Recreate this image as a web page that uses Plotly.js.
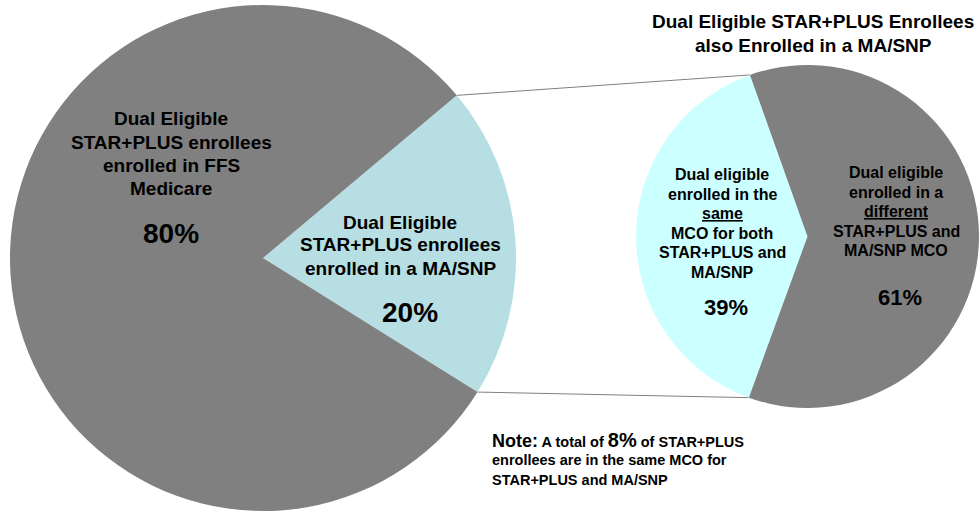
<!DOCTYPE html>
<html>
<head>
<meta charset="utf-8">
<script src="https://cdn.plot.ly/plotly-3.0.1.min.js"></script>
<style>html,body{margin:0;padding:0;background:#fff;}#chart{width:979px;height:516px;}</style>
</head>
<body>
<div id="chart"></div>
<script>
// ---- data ----
var mainLabels = ["Dual Eligible STAR+PLUS enrollees enrolled in a MA/SNP", "Dual Eligible STAR+PLUS enrollees enrolled in FFS Medicare"];
var mainValues = [20, 80];
var subLabels = ["Dual eligible enrolled in the same MCO for both STAR+PLUS and MA/SNP", "Dual eligible enrolled in a different STAR+PLUS and MA/SNP MCO"];
var subValues = [39, 61];
var subTitleLines = ["Dual Eligible STAR+PLUS Enrollees", "also Enrolled in a MA/SNP"];
var labelFFS = ["Dual Eligible", "STAR+PLUS enrollees", "enrolled in FFS", "Medicare"];
var labelMA = ["Dual Eligible", "STAR+PLUS enrollees", "enrolled in a MA/SNP"];
var labelSame = ["Dual eligible", "enrolled in the", "<u>same</u>", "MCO for both", "STAR+PLUS and", "MA/SNP"];
var labelDiff = ["Dual eligible", "enrolled in a", "<u>different</u>", "STAR+PLUS and", "MA/SNP MCO"];
var noteLines = [
  '<span style="font-size:18px">Note:</span> A total of <span style="font-size:20px">8%</span> of STAR+PLUS',
  'enrollees are in the same MCO for',
  'STAR+PLUS and MA/SNP'
];

// ---- layout geometry ----
var W = 979, H = 516;
var FONT = "Arial, 'Liberation Sans', sans-serif";
var gray = "#808080", lightBlue = "#B7DEE2", cyan = "#CCFFFF";

var mainDom = {x: [10 / W, 516 / W], y: [5 / H, 511 / H]};
var subDom = {x: [636 / W, 1], y: [107 / H, 452 / H]};
var mainRot = 50, subRot = 200;

function pieGeom(dom) {
  var w = (dom.x[1] - dom.x[0]) * W, h = (dom.y[1] - dom.y[0]) * H;
  return {
    cx: (dom.x[0] + dom.x[1]) / 2 * W,
    cy: H - (dom.y[0] + dom.y[1]) / 2 * H,
    r: Math.min(w, h) / 2
  };
}
function edgePoint(g, deg) {
  var a = deg * Math.PI / 180;
  return {x: (g.cx + g.r * Math.sin(a)) / W, y: 1 - (g.cy - g.r * Math.cos(a)) / H};
}
var gM = pieGeom(mainDom), gS = pieGeom(subDom);
var sumM = mainValues.reduce(function (a, b) { return a + b; }, 0);
var sumS = subValues.reduce(function (a, b) { return a + b; }, 0);
var maStart = mainRot, maEnd = mainRot + 360 * mainValues[0] / sumM;
var sameStart = subRot, sameEnd = subRot + 360 * subValues[0] / sumS;
var p1 = edgePoint(gM, maStart), p2 = edgePoint(gS, sameEnd);
var p3 = edgePoint(gM, maEnd), p4 = edgePoint(gS, sameStart);

var traces = [
  {type: "pie", labels: mainLabels, values: mainValues, sort: false, direction: "clockwise",
   rotation: mainRot, domain: mainDom, marker: {colors: [lightBlue, gray], line: {width: 0}},
   textinfo: "none", hoverinfo: "none", showlegend: false},
  {type: "pie", labels: subLabels, values: subValues, sort: false, direction: "clockwise",
   rotation: subRot, domain: subDom, marker: {colors: [cyan, gray], line: {width: 0}},
   textinfo: "none", hoverinfo: "none", showlegend: false}
];

var annotations = [];
function addLines(lines, xPx, yPx, spacing, size, anchor) {
  lines.forEach(function (t, i) {
    annotations.push({
      xref: "paper", yref: "paper", x: xPx / W, y: 1 - (yPx + i * spacing) / H,
      text: "<b>" + t + "</b>", showarrow: false, xanchor: anchor || "center", yanchor: "middle",
      align: anchor === "left" ? "left" : "center",
      font: {family: FONT, size: size, color: "#000"}
    });
  });
}
addLines(labelFFS, 171, 119, 23, 19);
addLines([mainValues[1] + "%"], 171, 234, 0, 28);
addLines(labelMA, 400, 222, 23, 19);
addLines([mainValues[0] + "%"], 410, 312, 0, 28);
addLines(labelSame, 722, 175, 19.4, 16);
addLines([subValues[0] + "%"], 726, 307, 0, 22);
addLines(labelDiff, 896, 173, 19.4, 16);
addLines([subValues[1] + "%"], 900, 297, 0, 22);
addLines(subTitleLines, 813, 22, 23, 19);
addLines(noteLines, 490, 440, 20, 14.5, "left");

var layout = {
  width: W, height: H,
  margin: {l: 0, r: 0, t: 0, b: 0},
  paper_bgcolor: "#fff", plot_bgcolor: "#fff",
  showlegend: false,
  font: {family: FONT},
  shapes: [
    {type: "line", xref: "paper", yref: "paper", x0: p1.x, y0: p1.y, x1: p2.x, y1: p2.y, line: {color: "#808080", width: 1}, layer: "below"},
    {type: "line", xref: "paper", yref: "paper", x0: p3.x, y0: p3.y, x1: p4.x, y1: p4.y, line: {color: "#808080", width: 1}, layer: "below"}
  ],
  annotations: annotations
};
Plotly.newPlot("chart", traces, layout, {displayModeBar: false, staticPlot: true});
</script>
</body>
</html>
